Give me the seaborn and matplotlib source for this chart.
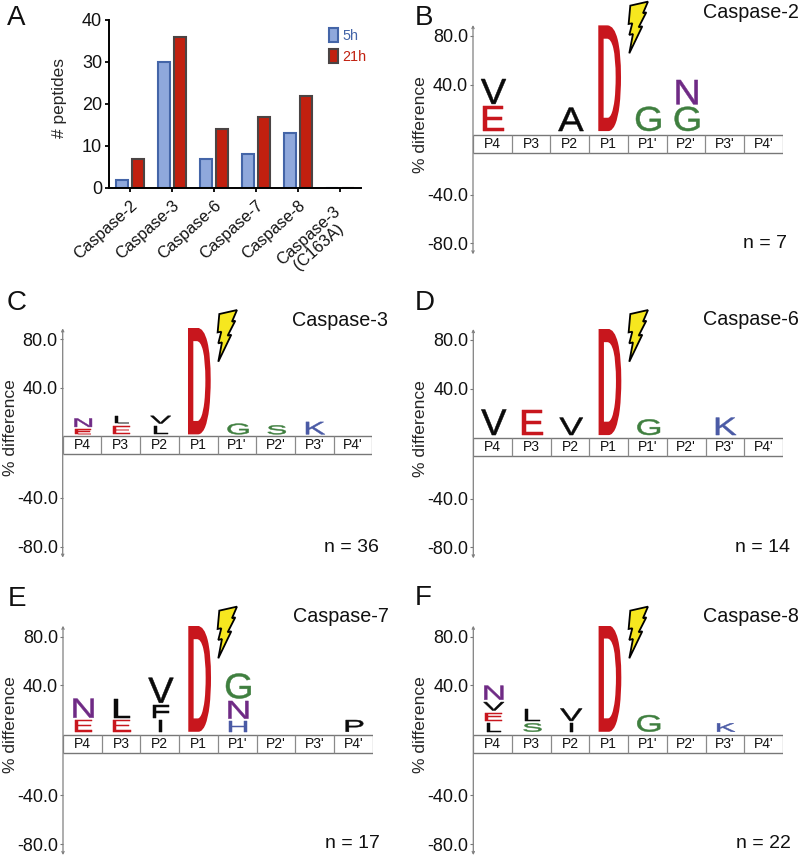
import numpy as np
import pandas as pd
import seaborn as sns
from matplotlib import pyplot as plt
from matplotlib.font_manager import FontProperties
from matplotlib.patches import Patch, PathPatch, Polygon
from matplotlib.text import TextPath
from matplotlib.transforms import Affine2D, ScaledTranslation

W, H = 802, 857

# panel A
caspases = ['Caspase-2', 'Caspase-3', 'Caspase-6', 'Caspase-7', 'Caspase-8', 'Caspase-3\n(C163A)']
peptides_5h = [2, 30, 7, 8, 13, 0]
peptides_21h = [7, 36, 14, 17, 22, 0]

# logo panels: site index (0 = P4 ... 7 = P4'), letter and height, bottom to top
sites = ['P4', 'P3', 'P2', 'P1', "P1'", "P2'", "P3'", "P4'"]

b_sites = [0, 0, 2, 3, 4, 5, 5]
b_letters = ['E', 'V', 'A', 'D', 'G', 'G', 'N']
b_heights = [20.3, 20.5, 19.2, 87, 20, 20, 20]

c_sites = [0, 0, 1, 1, 2, 2, 3, 4, 5, 6]
c_letters = ['E', 'N', 'E', 'L', 'L', 'V', 'D', 'G', 'S', 'K']
c_heights = [4.1, 6.9, 6.9, 6.3, 6.9, 6.3, 87.8, 8.8, 7.4, 10.2]

d_sites = [0, 1, 2, 3, 4, 6]
d_letters = ['V', 'E', 'V', 'D', 'G', 'K']
d_heights = [21, 20.6, 14.3, 87.5, 12.9, 14.3]

e_sites = [0, 0, 1, 1, 2, 2, 2, 3, 4, 4, 4, 7]
e_letters = ['E', 'N', 'E', 'L', 'I', 'F', 'V', 'D', 'H', 'N', 'G', 'P']
e_heights = [9.6, 15.6, 9.6, 15.6, 9.6, 10.2, 20.6, 87.2, 8.8, 14.5, 20.6, 9.6]

f_sites = [0, 0, 0, 0, 1, 1, 2, 2, 3, 4, 6]
f_letters = ['L', 'E', 'V', 'N', 'S', 'L', 'I', 'V', 'D', 'G', 'K']
f_heights = [6.9, 6.6, 6.9, 11.5, 6.9, 10.2, 6.9, 10.2, 87.8, 13.7, 6.9]

letter_colors = {'D': '#c8161d', 'E': '#c8161d', 'G': '#3f7f3f', 'S': '#3f7f3f',
                 'N': '#6f2a85', 'K': '#4a5aa5', 'H': '#4a5aa5'}

sns.set_style('ticks')
plt.rcParams['font.family'] = ['Liberation Sans', 'DejaVu Sans']
plt.rcParams['text.color'] = '#111111'
plt.rcParams['xtick.labelcolor'] = '#111111'
plt.rcParams['ytick.labelcolor'] = '#111111'

fig = plt.figure(figsize=(W / 100, H / 100), dpi=100, facecolor='white')
font = FontProperties(family='Liberation Sans')


def px_axes(left, top, right, bottom):
    return fig.add_axes([left / W, 1 - bottom / H, (right - left) / W, (bottom - top) / H])


def fig_text(x, y, s, size, ha='left'):
    fig.text(x / W, 1 - y / H, s, fontsize=size, ha=ha, va='center')


def add_letter(ax, site, letter, bottom, height):
    path = TextPath((0, 0), letter, size=1, prop=font)
    box = path.get_extents()
    # short letters are squeezed sideways in the logo
    xscale = 0.98 * min(1, 0.72 + height * 0.015)
    lw = 0.35
    if letter == 'D':
        # the big D at P1 is heavier, the stroke eats into its outline
        xscale, lw = 0.9, 1.5
        bottom, height = bottom + 0.8, height - 1.7
    tr = (Affine2D().translate(-(box.x0 + box.x1) / 2, -box.y0)
          .scale(xscale, height / box.height)
          .translate(site + 0.53, bottom))
    color = letter_colors.get(letter, '#0a0a0a')
    ax.add_patch(PathPatch(tr.transform_path(path), fc=color, ec=color, lw=lw))


def logo_panel(left, y80, table_top, letter_sites, letters, heights, title, title_xy, count, count_xy, bolt_xy):
    # 1 % = 1.215 px, the axis runs 11 px past the outer ticks
    ax = px_axes(left, y80 - 11, left + 309.7, y80 + 218.4)
    ax.set_xlim(0, 8)
    ax.set_ylim(80 - 218.4 / 1.215, 80 + 11 / 1.215)
    ax.patch.set_alpha(0)
    sns.despine(ax=ax, left=True, bottom=True)
    ax.set_xticks([])
    ax.set_yticks([80, 40, -50.6, -90.7], ['80.0', '40.0', '-40.0', '-80.0'], fontsize=13)
    ax.tick_params(axis='y', length=2, width=0.8, color='#777777', pad=1.5)
    ax.annotate('', xy=(0, 1), xytext=(0, 0), xycoords='axes fraction', textcoords='axes fraction',
                arrowprops=dict(arrowstyle='<->', color='#808080', lw=0.9, mutation_scale=4,
                                shrinkA=0, shrinkB=0))
    ax.set_ylabel('% difference', fontsize=12.6)
    ax.yaxis.set_label_coords(-45 / 309.7, 0.568)

    # the table of sites sits between the + and - halves of the axis
    table_bottom = table_top - 14.5
    ax.hlines([table_top, table_bottom], 0, 8, color='#777777', lw=1)
    ax.vlines(np.arange(9), table_bottom, table_top, color='#8a8a8a', lw=0.9)
    for i, s in enumerate(sites):
        ax.text(i + 0.5, (table_top + table_bottom) / 2 - 0.3, s, ha='center', va='center', fontsize=10)

    tops = [1.8] * len(sites)
    for site, letter, height in zip(letter_sites, letters, heights):
        add_letter(ax, site, letter, tops[site], height)
        tops[site] += height + 2

    fig_text(title_xy[0], title_xy[1], title, 14.2, ha='right')
    fig_text(count_xy[0], count_xy[1], count, 14, ha='right')

    shape = (np.array([(30, 15), (83, 3), (68, 38), (78, 35), (55, 80), (66, 77), (27, 158),
                       (38, 100), (27, 103), (36, 68), (25, 70)]) - (27, 158)) / 3 + bolt_xy
    fig.add_artist(Polygon(shape / (W, H) * (1, -1) + (0, 1), closed=True, fc='#f6e71f', ec='black',
                           lw=1.3, joinstyle='miter', transform=fig.transFigure))


# panel A
ax_a = px_axes(109, 20, 361, 188)
bars = pd.DataFrame({
    'caspase': caspases * 2,
    'peptides': peptides_5h + peptides_21h,
    'time': ['5h'] * 6 + ['21h'] * 6,
})
sns.barplot(data=bars, x='caspase', y='peptides', hue='time', order=caspases, hue_order=['5h', '21h'],
            palette=['#8fa8dc', '#c1200f'], width=0.74, gap=0.2, saturation=1, legend=False, ax=ax_a)
for cont, edge in zip(ax_a.containers, ['#4465a8', '#4a4444']):
    for bar in cont:
        bar.set_edgecolor(edge)
        bar.set_linewidth(1.5)
ax_a.set_xlim(-0.5, 5.5)
ax_a.set_ylim(0, 40)
ax_a.set_yticks([0, 10, 20, 30, 40])
ax_a.tick_params(axis='y', labelsize=13, length=3, width=1.3, pad=2, color='black')
ax_a.tick_params(axis='x', length=3, width=1.3, pad=4, color='black')
ax_a.set_xticks(range(6))
ax_a.set_xticklabels(caspases, rotation=42, ha='right', va='top', rotation_mode='anchor',
                     fontsize=11.8, linespacing=0.95, multialignment='center')
# the two-line label hangs lower and further left than the others
two_line = ax_a.get_xticklabels()[-1]
two_line.set_transform(two_line.get_transform() + ScaledTranslation(-7 / 100, -6 / 100, fig.dpi_scale_trans))
ax_a.set_xlabel('')
ax_a.set_ylabel('# peptides', fontsize=12.5)
ax_a.yaxis.set_label_coords(-42 / 252, 0.535)
sns.despine(ax=ax_a)
for side in ['left', 'bottom']:
    ax_a.spines[side].set_linewidth(1.4)
    ax_a.spines[side].set_color('black')
legend_handles = [Patch(fc='#8fa8dc', ec='#4465a8', lw=1.5, label='5h'),
                  Patch(fc='#c1200f', ec='#4a4444', lw=1.5, label='21h')]
ax_a.legend(handles=legend_handles, frameon=False, fontsize=10.4, labelcolor=['#4465a8', '#c1200f'],
            handlelength=0.6, handleheight=1.1, handletextpad=0.3, labelspacing=0.42,
            borderpad=0, borderaxespad=0, loc='upper left', bbox_to_anchor=(220 / 252, 1 - 8 / 168))

logo_panel(473, 36, -1.4, b_sites, b_letters, b_heights, 'Caspase-2', (799, 13), 'n = 7', (787, 243), (629.3, 53.3))
logo_panel(62.7, 339.3, 0.4, c_sites, c_letters, c_heights, 'Caspase-3', (388, 320), 'n = 36', (379.3, 547), (218.3, 361.7))
logo_panel(473.3, 340, -0.9, d_sites, d_letters, d_heights, 'Caspase-6', (799, 319.3), 'n = 14', (790, 547), (629.3, 361.7))
logo_panel(63, 636.7, -1.1, e_sites, e_letters, e_heights, 'Caspase-7', (388.7, 616), 'n = 17', (380, 844), (218.3, 658.3))
logo_panel(473.3, 636.7, -1.1, f_sites, f_letters, f_heights, 'Caspase-8', (799, 616), 'n = 22', (790.7, 844), (629.3, 658.3))

for label, x, y in [('A', 7, 18), ('B', 415, 18), ('C', 7, 303), ('D', 415, 303), ('E', 8, 599), ('F', 415, 598)]:
    fig_text(x, y, label, 20)

fig.savefig('out.png', dpi=100)
